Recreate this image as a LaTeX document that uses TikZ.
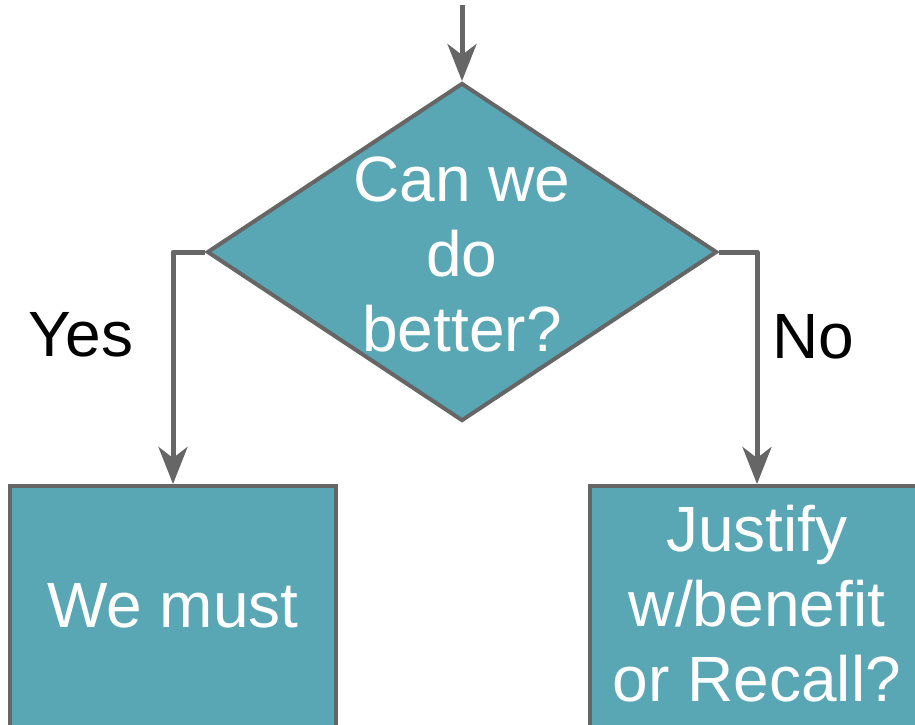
\documentclass[tikz,border=0pt]{standalone}
\usepackage{fontspec}
\setmainfont{Liberation Sans}
\usetikzlibrary{shapes.geometric,arrows.meta}
\definecolor{tealfill}{HTML}{59A7B5}
\definecolor{edgegray}{HTML}{666666}
\tikzset{
  decision/.style={shape=diamond, draw=edgegray, fill=tealfill, line width=4pt,
    minimum width=510pt, minimum height=338pt, inner sep=0pt},
  outcome/.style={shape=rectangle, draw=edgegray, fill=tealfill, line width=4pt,
    minimum width=326pt, minimum height=280pt, inner sep=0pt},
  boxtext/.style={text=white, align=center, font=\fontsize{64}{75}\selectfont, inner sep=0pt},
  sidelabel/.style={text=black, font=\fontsize{64}{75}\selectfont, inner sep=0pt, anchor=base},
  flow/.style={draw=edgegray, line width=5pt, line join=round,
    -{Stealth[length=37pt, width=29pt, inset=11pt]}}
}
\begin{document}
\begin{tikzpicture}[x=1pt, y=-1pt]
  \useasboundingbox (0,0) rectangle (915,725);
  \clip (0,0) rectangle (915,725);

  % decision diamond and the two outcome boxes
  \node[decision] (q) at (462,252) {};
  \node[outcome] (yesbox) at (173,626) {};
  \node[outcome, minimum width=334pt] (nobox) at (757,626) {};

  % texts (base anchor sits on the last line's baseline)
  \node[boxtext, anchor=base] (qtext) at (462,351) {Can we\\do\\better?};
  \node[boxtext, anchor=base] (yestext) at (173,627) {We must};
  \node[boxtext, anchor=base] (notext) at (757,701) {Justify\\w/benefit\\or Recall?};
  \node[sidelabel] (yeslbl) at (81,356) {Yes};
  \node[sidelabel] (nolbl) at (813,358) {No};

  % connectors
  \coordinate (entry) at (462,5);
  \draw[flow] (entry) -- (q.north);
  \draw[flow] (q.west) -| (yesbox.north);
  \draw[flow] (q.east) -| (nobox.north);
\end{tikzpicture}
\end{document}
